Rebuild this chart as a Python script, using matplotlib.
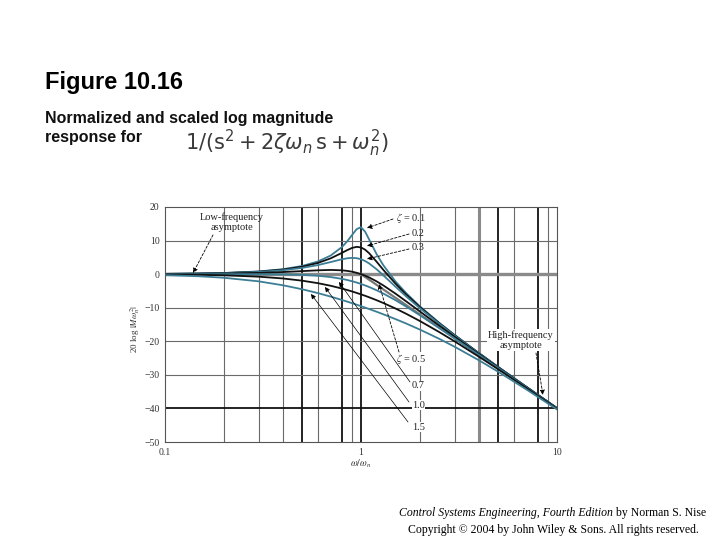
import matplotlib
matplotlib.use('Agg')
import matplotlib.pyplot as plt
from matplotlib.ticker import NullLocator

# ---------------- data ----------------
freq = [0.1, 0.15, 0.2, 0.3, 0.4, 0.5, 0.6, 0.7, 0.8, 0.85, 0.9, 0.95, 1.0,
        1.05, 1.1, 1.2, 1.3, 1.5, 1.7, 2, 2.5, 3, 4, 5, 7, 10]
zeta_labels = ['0.1', '0.2', '0.3', '0.5', '0.7', '1.0', '1.5']
mag_z01 = [0.09, 0.19, 0.35, 0.80, 1.48, 2.42, 3.73, 5.53, 8.09, 9.75, 11.64, 13.41, 13.98,
           12.63, 10.34, 6.00, 2.65, -2.18, -5.67, -9.62, -14.44, -18.09, -23.53, -27.61, -33.63, -39.91]
mag_z02 = [0.08, 0.18, 0.32, 0.74, 1.36, 2.20, 3.30, 4.70, 6.35, 7.15, 7.81, 8.13, 7.96,
           7.28, 6.24, 3.73, 1.27, -2.84, -6.06, -9.84, -14.56, -18.16, -23.57, -27.63, -33.64, -39.92]
mag_z03 = [0.07, 0.16, 0.29, 0.65, 1.17, 1.85, 2.68, 3.60, 4.44, 4.72, 4.85, 4.76, 4.44,
           3.90, 3.19, 1.48, -0.35, -3.75, -6.64, -10.19, -14.74, -18.28, -23.63, -27.67, -33.66, -39.93]
mag_z05 = [0.04, 0.10, 0.17, 0.37, 0.63, 0.90, 1.14, 1.25, 1.14, 0.97, 0.73, 0.40, 0.00,
           -0.46, -0.98, -2.13, -3.36, -5.81, -8.10, -11.14, -15.29, -18.63, -23.82, -27.79, -33.72, -39.96]
mag_z07 = [0.00, 0.00, 0.00, -0.02, -0.08, -0.22, -0.47, -0.87, -1.41, -1.74, -2.11, -2.50, -2.92,
           -3.37, -3.83, -4.79, -5.78, -7.76, -9.66, -12.26, -16.00, -19.12, -24.09, -27.96, -33.80, -40.00]
mag_z10 = [-0.09, -0.19, -0.34, -0.75, -1.29, -1.94, -2.67, -3.46, -4.30, -4.72, -5.15, -5.59, -6.02,
           -6.45, -6.89, -7.75, -8.60, -10.24, -11.80, -13.98, -17.21, -20.00, -24.61, -28.30, -33.98, -40.09]
mag_z15 = [-0.29, -0.64, -1.08, -2.14, -3.32, -4.49, -5.62, -6.69, -7.70, -8.18, -8.65, -9.10, -9.54,
           -9.97, -10.39, -11.19, -11.96, -13.39, -14.71, -16.53, -19.23, -21.61, -25.67, -29.04, -34.39, -40.29]
asym_freq = [1, 10]
asym_db = [0, -40]
yticks = [20, 10, 0, -10, -20, -30, -40, -50]
ytick_labels = ['20', '10', '0', '\u221210', '\u221220', '\u221230', '\u221240', '\u221250']
xticks = [0.1, 1, 10]
xtick_labels = ['0.1', '1', '10']

# ---------------- styling ----------------
TEAL = '#3c7d96'
BLACK = '#111111'
curve_colors = [TEAL, BLACK, TEAL, BLACK, TEAL, BLACK, TEAL]
SERIF = ['Liberation Serif', 'DejaVu Serif']
SANS = ['Liberation Sans', 'DejaVu Sans']

W, H = 720, 540
fig = plt.figure(figsize=(7.2, 5.4), dpi=100)
fig.patch.set_facecolor('white')


def F(px, py):
    return (px / W, 1 - py / H)


ax = fig.add_axes([165 / W, 1 - 442 / H, (557 - 165) / W, (442 - 207) / H])
ax.set_xscale('log')
ax.set_xlim(0.1, 10)
ax.set_ylim(-50, 20)
ax.xaxis.set_minor_locator(NullLocator())
ax.set_xticks(xticks)
ax.set_xticklabels(xtick_labels)
ax.set_yticks(yticks)
ax.set_yticklabels(ytick_labels)
ax.tick_params(length=0, labelsize=7, colors='#333333')
ax.tick_params(axis='y', pad=4)
ax.tick_params(axis='x', pad=4)
for lab in ax.get_xticklabels() + ax.get_yticklabels():
    lab.set_family(SERIF)
for sp in ax.spines.values():
    sp.set_color('#555555')
    sp.set_linewidth(0.8)

# grid lines (reproducing the uneven weights of the printed grid)
thin_v = [0.2, 0.3, 0.4, 0.6, 0.9, 2, 3, 6, 9]
bold_v = [0.5, 0.8, 1, 5, 8]
for v in thin_v:
    ax.axvline(v, color='#6a6a6a', lw=0.8, zorder=0.5)
for v in bold_v:
    ax.axvline(v, color='#111111', lw=1.3, zorder=0.5)
ax.axvline(4, color='#8a8a8a', lw=2.2, zorder=0.5)
for h in [10, -10, -20, -30]:
    ax.axhline(h, color='#6a6a6a', lw=0.8, zorder=0.5)
ax.axhline(0, color='#8a8a8a', lw=2.4, zorder=0.5)
ax.axhline(-40, color='#111111', lw=1.3, zorder=0.5)

# asymptote and curves
ax.plot(asym_freq, asym_db, color='#777777', lw=1.6, zorder=1)
series = [mag_z01, mag_z02, mag_z03, mag_z05, mag_z07, mag_z10, mag_z15]
for mag, c in zip(series, curve_colors):
    ax.plot(freq, mag, color=c, lw=1.3, zorder=2, solid_joinstyle='round')


def P(px, py):
    return tuple(ax.transData.inverted().transform((px, H - py)))


afs = 7.5
dash_arrow = dict(arrowstyle='-|>', linestyle=(0, (3, 2)), lw=0.6, color='black',
                  mutation_scale=7, shrinkA=0, shrinkB=0)
solid_arrow = dict(arrowstyle='-|>', lw=0.5, color='black',
                   mutation_scale=7, shrinkA=0, shrinkB=0)

# Low-frequency asymptote
ax.text(*P(232, 222), 'Low-frequency\nasymptote', ha='center', va='center',
        fontsize=afs, family=SERIF, linespacing=1.15, color='#222222', zorder=4)
ax.annotate('', xy=P(193, 273), xytext=P(213, 235), arrowprops=dash_arrow, zorder=4)

# High-frequency asymptote
ax.text(*P(521, 340), 'High-frequency\nasymptote', ha='center', va='center',
        fontsize=afs, family=SERIF, linespacing=1.15, color='#222222', zorder=4,
        bbox=dict(facecolor='white', edgecolor='none', pad=0.5))
ax.annotate('', xy=P(543, 395), xytext=P(536, 353), arrowprops=dash_arrow, zorder=4)

# upper zeta labels
upper = [(zeta_labels[0], (396, 218), (393, 219), (367, 228), True),
         (zeta_labels[1], (412, 234), (409, 234), (367, 246), False),
         (zeta_labels[2], (412, 248), (409, 249), (367, 259), False)]
for lab, tpos, tail, tip, first in upper:
    txt = r'$\zeta$ = ' + lab if first else lab
    ax.text(*P(*tpos), txt, ha='left', va='center', fontsize=afs, family=SERIF,
            math_fontfamily='stix', color='#222222', zorder=4)
    ax.annotate('', xy=P(*tip), xytext=P(*tail), arrowprops=dash_arrow, zorder=4)

# lower zeta labels
lower = [(zeta_labels[3], (396, 359), (399, 352), (379, 284), True),
         (zeta_labels[4], (412, 386), (410, 382), (339, 282), False),
         (zeta_labels[5], (412, 405), (409, 402), (325, 287), False),
         (zeta_labels[6], (412, 427), (408, 422), (311, 294), False)]
for lab, tpos, tail, tip, first in lower:
    txt = r'$\zeta$ = ' + lab if first else lab
    ax.text(*P(*tpos), txt, ha='left', va='center', fontsize=afs, family=SERIF,
            math_fontfamily='stix', color='#222222', zorder=4,
            bbox=dict(facecolor='white', edgecolor='none', pad=0.3))
    ax.annotate('', xy=P(*tip), xytext=P(*tail),
                arrowprops=dash_arrow if first else solid_arrow, zorder=4)

# axis labels
fig.text(*F(135, 329), r'20 log $|M\omega_n^2|$', rotation=90, ha='center', va='center',
         fontsize=6.5, family=SERIF, math_fontfamily='stix', color='#333333')
fig.text(*F(361, 464), r'$\omega/\omega_n$', ha='center', va='center',
         fontsize=7, math_fontfamily='stix', color='#333333')

# slide titles
fig.text(*F(45, 82), 'Figure 10.16', ha='left', va='center', fontsize=17,
         fontweight='bold', family=SANS, color='black')
fig.text(*F(45, 118), 'Normalized and scaled log magnitude', ha='left', va='center',
         fontsize=11.5, fontweight='bold', family=SANS, color='#111111')
fig.text(*F(45, 137), 'response for', ha='left', va='center',
         fontsize=11.5, fontweight='bold', family=SANS, color='#111111')
fig.text(*F(185, 143), r'$1/(\mathrm{s}^2 + 2\zeta\omega_n\,\mathrm{s} + \omega_n^2)$',
         ha='left', va='center', fontsize=15, math_fontfamily='dejavusans', color='#3a3a3a')

# footer
fig.canvas.draw()
r = fig.canvas.get_renderer()
t1 = fig.text(*F(706, 513), ' by Norman S. Nise', ha='right', va='center',
              fontsize=8.5, family=SERIF, color='black')
bb = t1.get_window_extent(r)
fig.text(bb.x0 / W, 1 - 513 / H, 'Control Systems Engineering, Fourth Edition',
         ha='right', va='center', fontsize=8.5, family=SERIF, style='italic', color='black')
fig.text(*F(699, 530), 'Copyright \u00a9 2004 by John Wiley & Sons. All rights reserved.',
         ha='right', va='center', fontsize=8.5, family=SERIF, color='black')

fig.savefig('out.png', dpi=100, facecolor='white')
